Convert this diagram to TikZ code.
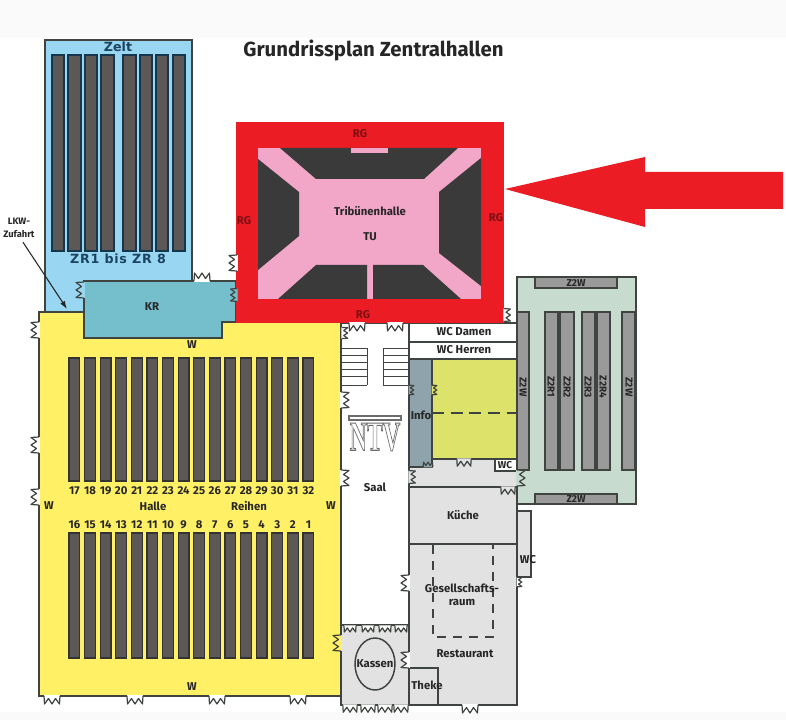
\documentclass[tikz,border=0pt]{standalone}
\usepackage{fontspec}
\usetikzlibrary{arrows.meta}
\setmainfont{Fira Sans}
\newfontfamily\wideface{DejaVu Sans}
\newfontfamily\logoface{Liberation Serif}
\definecolor{wall}{HTML}{3F4440}
\definecolor{sky}{HTML}{99D6F2}
\definecolor{seat}{HTML}{5C5856}
\definecolor{teal}{HTML}{74BFCB}
\definecolor{hall}{HTML}{FFF066}
\definecolor{redhall}{HTML}{EC1C24}
\definecolor{pinkfloor}{HTML}{F2A6C8}
\definecolor{darkblock}{HTML}{3A3A3A}
\definecolor{mint}{HTML}{C7DBCF}
\definecolor{bar}{HTML}{9A9A9A}
\definecolor{room}{HTML}{E2E2E2}
\definecolor{infoc}{HTML}{8EA3AC}
\definecolor{lime}{HTML}{DDE26A}
\definecolor{rglabel}{HTML}{7E1014}
\definecolor{zeltlabel}{HTML}{1A4460}
\tikzset{
  x=0.75pt,y=-0.75pt,
  wallshape/.style={draw=wall,line width=1.1pt,line join=miter},
  seatrow/.style={draw=black!80,fill=seat,line width=0.8pt},
  zeltrow/.style={draw=zeltlabel!80!black,fill=seat,line width=0.8pt},
  barrow/.style={draw=wall,fill=bar,line width=0.8pt},
  lbl/.style={font=\fontsize{8.5}{10}\selectfont\bfseries,text=black!85,inner sep=0pt,align=center},
  rg/.style={lbl,text=rglabel},
  widelbl/.style={font=\fontsize{9.5}{11}\wideface\bfseries,text=zeltlabel,inner sep=0pt},
  rot/.style={lbl,rotate=-90,font=\fontsize{7.5}{9}\selectfont\bfseries},
}
% \doorsym{x}{y}{rotation}{outside colour}{scale}
\newcommand{\doorsym}[5]{%
  \begin{scope}[shift={(#1,#2)},rotate=#3,scale=#5]
    \fill[#4] (-8,-0.8) -- (-7.5,8) -- (-3.5,2.5) -- (0,8) -- (3.5,2.5) -- (7.5,8) -- (8,-0.8) -- cycle;
    \draw[wall,line width=0.9pt,line join=round] (-8,0) -- (-7.5,8) -- (-3.5,2.5) -- (0,8) -- (3.5,2.5) -- (7.5,8) -- (8,0);
  \end{scope}}
\begin{document}
\begin{tikzpicture}
\useasboundingbox (0,0) rectangle (786,720);
\fill[white] (0,0) rectangle (786,720);
\fill[black!2] (0,0) rectangle (786,38);
\fill[black!2] (0,712) rectangle (786,720);

\node[inner sep=0pt,font=\fontsize{15.3}{18}\selectfont\bfseries,text=black!85] (title) at (373.5,50) {Grundrissplan Zentralhallen};

% Zelt
\draw[wallshape,fill=sky] (45,40) rectangle (192,314);
\foreach \a/\b in {52/64,68/81,85/97,101/114,123/136,140/152,156/168,173/185}
  \draw[zeltrow] (\a,55) rectangle (\b,251);
\node[widelbl] (zelt) at (118,47) {Zelt};
\node[widelbl] (zr) at (118,259) {\addfontfeature{LetterSpace=6}ZR1 bis ZR 8};

% right block (Z2)
\draw[wallshape,fill=mint] (517,277) rectangle (636,504);
\draw[barrow] (535,277) rectangle (617,288);
\draw[barrow] (535,494) rectangle (617,504);
\foreach \a/\b in {517/529,545/558,560/574,582/595,597/610,622/635}
  \draw[barrow] (\a,312) rectangle (\b,470);
\node[rot,rotate=90] (ztop) at (576,283) {Z2W};
\node[rot,rotate=90] (zbot) at (576,499) {Z2W};
\node[rot] (zw1) at (523,387) {Z2W};
\node[rot] (zr1) at (551,387) {Z2R1};
\node[rot] (zr2) at (567,387) {Z2R2};
\node[rot] (zr3) at (588,387) {Z2R3};
\node[rot] (zr4) at (603,387) {Z2R4};
\node[rot] (zw2) at (629,387) {Z2W};

% central rooms
\draw[wallshape,fill=white] (341,323) rectangle (409,625);
\draw[wallshape,fill=white] (409,323) rectangle (517,342);
\draw[wallshape,fill=white] (409,342) rectangle (517,359);
\draw[wallshape,fill=room] (409,459) rectangle (517,487);
\draw[wallshape,fill=infoc] (409,359) rectangle (432,467);
\draw[wallshape,fill=lime] (432,359) rectangle (517,459);
\draw[wall,line width=1pt,dash pattern=on 9pt off 5pt] (432,413) -- (517,413);
\draw[wallshape,fill=white] (495,459) rectangle (517,471);
\draw[wallshape,fill=room] (517,511) rectangle (531,577);
\draw[wallshape,fill=room] (409,487) rectangle (517,544);
\draw[wallshape,fill=room] (409,544) rectangle (517,705);
\draw[wallshape,fill=room] (409,668) -- (438,668) -- (438,705) -- (409,705) -- cycle;
\draw[wall,line width=1pt,dash pattern=on 7pt off 5pt] (433,545) -- (433,637) -- (493,637) -- (493,545);
\draw[wallshape,fill=room] (341,625) rectangle (409,705);
\draw[wall,line width=1.1pt,fill=room] (375,664) ellipse [x radius=20,y radius=26];

% stairs
\foreach \yy in {348,355,362,369,376,385} {
  \draw[wall,line width=0.7pt] (342,\yy) -- (367,\yy);
  \draw[wall,line width=0.7pt] (383,\yy) -- (408,\yy);
}
\draw[wall,line width=0.7pt] (367,348) -- (367,385) (383,348) -- (383,385);

% NTV logo
\draw[bar!70!black,line width=0.8pt,fill=white] (349,416) rectangle (401,420);
\node[inner sep=0pt,xscale=0.58,transform shape,font=\fontsize{31}{31}\logoface\bfseries,text=bar!70!black] (ntv) at (375,437) {\special{pdf:code q 1 Tr 0.8 w}NTV\special{pdf:code Q}};

% Hall
\draw[wallshape,fill=hall] (39,312) -- (84,312) -- (84,338) -- (222,338) -- (222,322) -- (341,322) -- (341,696) -- (39,696) -- cycle;
\foreach \i in {0,...,15} {
  \pgfmathsetmacro{\xa}{69+15.6*\i}
  \pgfmathsetmacro{\xb}{\xa+10.8}
  \draw[seatrow] (\xa,358) rectangle (\xb,481);
  \draw[seatrow] (\xa,533) rectangle (\xb,658);
  \pgfmathsetmacro{\xc}{\xa+5.4}
  \pgfmathtruncatemacro{\up}{17+\i}
  \pgfmathtruncatemacro{\lo}{16-\i}
  \node[lbl,font=\fontsize{8.5}{10}\selectfont\bfseries] (up\i) at (\xc,491) {\up};
  \node[lbl,font=\fontsize{8.5}{10}\selectfont\bfseries] (lo\i) at (\xc,525) {\lo};
}
\node[lbl] (halle) at (153,506) {Halle};
\node[lbl] (reihen) at (249,506) {Reihen};
\node[lbl] (wa) at (49,506) {W};
\node[lbl] (wb) at (331,506) {W};
\node[lbl] (wc) at (192,687) {W};
\node[lbl] (wd) at (192,345) {W};

% KR
\draw[wallshape,fill=teal] (84,281) -- (236,281) -- (236,322) -- (222,322) -- (222,338) -- (84,338) -- cycle;
\node[lbl] (kr) at (152,307) {KR};

% Red hall
\fill[redhall] (236,122) rectangle (504,323);
\fill[pinkfloor] (258,148) rectangle (481,299);
\fill[darkblock] (280,148) -- (458,148) -- (424,179) -- (316,179) -- cycle;
\fill[pinkfloor] (351,148) rectangle (388,153);
\fill[darkblock] (258,159) -- (299,192) -- (299,236) -- (258,270) -- cycle;
\fill[darkblock] (481,158) -- (439,192) -- (439,253) -- (481,286) -- cycle;
\fill[darkblock] (316,265) -- (367,265) -- (367,299) -- (278,299) -- cycle;
\fill[darkblock] (373,265) -- (423,265) -- (461,299) -- (373,299) -- cycle;
\node[rg] (rg1) at (360,134) {RG};
\node[rg] (rg2) at (244,221) {RG};
\node[rg] (rg3) at (496,218) {RG};
\node[rg] (rg4) at (363,315) {RG};
\node[lbl] (trib) at (370,211) {Tribünenhalle};
\node[lbl] (tu) at (370,237) {TU};

% big arrow
\fill[redhall] (505,189) -- (645,157) -- (645,172) -- (783,172) -- (783,209) -- (645,209) -- (645,227) -- cycle;

% doors
\doorsym{52}{696}{0}{white}{1}
\doorsym{135}{696}{0}{white}{1}
\doorsym{217}{696}{0}{white}{1}
\doorsym{298}{696}{0}{white}{1}
\doorsym{39}{330}{-90}{white}{1}
\doorsym{39}{445}{-90}{white}{1}
\doorsym{39}{497}{-90}{white}{1}
\doorsym{341}{400}{90}{white}{1}
\doorsym{341}{478}{90}{white}{1}
\doorsym{341}{643}{-90}{hall}{1}
\doorsym{342}{333}{90}{white}{0.7}
\doorsym{202}{281}{180}{white}{1}
\doorsym{84}{290}{-90}{sky}{1}
\doorsym{237}{263}{-90}{white}{1}
\doorsym{237}{295}{-90}{teal}{0.8}
\doorsym{357}{323}{0}{white}{1}
\doorsym{395}{323}{0}{white}{1}
\doorsym{504}{315}{90}{white}{0.8}
\doorsym{409}{390}{90}{infoc}{0.6}
\doorsym{432}{390}{90}{lime}{0.6}
\doorsym{464}{459}{0}{room}{0.9}
\doorsym{428}{467}{180}{infoc}{0.6}
\doorsym{409}{477}{90}{room}{0.8}
\doorsym{517}{478}{90}{mint}{1}
\doorsym{508}{487}{0}{room}{0.9}
\doorsym{409}{583}{-90}{white}{1}
\doorsym{409}{660}{-90}{white}{1}
\doorsym{470}{705}{0}{white}{1}
\doorsym{517}{582}{90}{white}{0.6}
\foreach \xx in {350,368,385,401} {
  \doorsym{\xx}{626}{0}{white}{0.75}
  \doorsym{\xx}{705}{0}{white}{0.9}
}

% room labels
\node[lbl] (saal) at (375,487) {Saal};
\node[lbl] (info) at (421,415) {Info};
\node[lbl] (wcd) at (464,332) {WC Damen};
\node[lbl] (wch) at (464,350) {WC Herren};
\node[lbl,font=\fontsize{7.5}{9}\selectfont\bfseries] (wcs) at (505,465) {WC};
\node[lbl] (kuche) at (463,515) {Küche};
\node[lbl,font=\fontsize{8.5}{10}\selectfont\bfseries] (ges) at (462,595) {Gesellschafts-\\raum};
\node[lbl] (rest) at (465,654) {Restaurant};
\node[lbl] (wcr) at (528,560) {WC};
\node[lbl] (kassen) at (375,664) {Kassen};
\node[lbl] (theke) at (427,685) {Theke};

% LKW
\node[lbl,font=\fontsize{7}{10}\selectfont\bfseries] (lkw) at (19,228) {LKW-\\Zufahrt};
\coordinate (lkwend) at (67,309);
\draw[-{Latex[length=6pt,width=4pt]},black!85,line width=0.8pt] (lkw.south) ++(4,4) -- (lkwend);
\end{tikzpicture}
\end{document}
